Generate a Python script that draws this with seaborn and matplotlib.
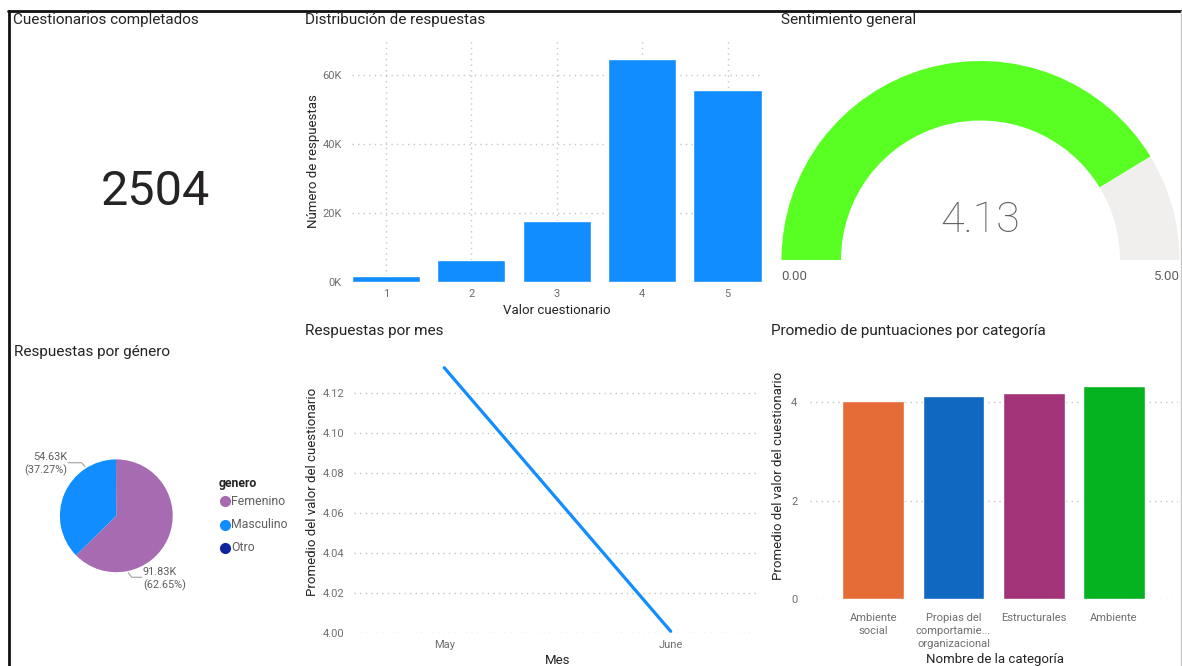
import matplotlib
matplotlib.use("Agg")
import matplotlib.pyplot as plt
import matplotlib.transforms as mtransforms
from matplotlib.patches import Wedge
from matplotlib.lines import Line2D
from matplotlib.ticker import FuncFormatter, FormatStrFormatter
import seaborn as sns

# ---------------- data ----------------
total_cuestionarios = 2504

valores_cuestionario = [1, 2, 3, 4, 5]
num_respuestas = [1850, 6450, 17800, 64800, 55650]

sentimiento = 4.13
sentimiento_min = 0.0
sentimiento_max = 5.0

generos = ["Femenino", "Masculino", "Otro"]
respuestas_genero = [91830, 54630, 120]

meses = ["May", "June"]
promedio_mes = [4.1325, 4.001]

categorias = ["Ambiente social", "Propias del comportamiento organizacional",
              "Estructurales", "Ambiente"]
etiquetas_categorias = ["Ambiente\nsocial", "Propias del\ncomportamie...\norganizacional",
                        "Estructurales", "Ambiente"]
promedio_categoria = [4.03, 4.13, 4.18, 4.33]

# ---------------- style ----------------
sns.set_theme(style="white")
plt.rcParams["font.family"] = ["Roboto", "DejaVu Sans"]

TITLE_C = "#252423"
TICK_C = "#6E6E6E"
GRID_C = "#C8C6C4"
BLUE = "#118DFF"
colores_genero = ["#A66BB1", "#118DFF", "#12239E"]
colores_categoria = ["#E66C37", "#1068C1", "#A4347A", "#05B21F"]

W, H = 1182, 666
fig = plt.figure(figsize=(W / 100, H / 100), dpi=100)
fig.patch.set_facecolor("white")

# pixel coordinates with origin at the top-left corner
PX = mtransforms.Affine2D().scale(1 / W, -1 / H).translate(0, 1) + fig.transFigure


def px_axes(left, top, right, bottom):
    return fig.add_axes([left / W, 1 - bottom / H, (right - left) / W, (bottom - top) / H])


def title(x, y, s):
    fig.text(x, y, s, transform=PX, ha="left", va="center", fontsize=11, color=TITLE_C)


def style_axes(ax, grid_axis):
    for sp in ax.spines.values():
        sp.set_visible(False)
    ax.grid(False)
    ax.grid(axis=grid_axis, linestyle=(0, (1, 3)), color=GRID_C, linewidth=1)
    ax.set_axisbelow(True)
    ax.tick_params(length=0, labelsize=8, labelcolor=TICK_C)


def place_labels(ax, xlab, xpos, ylab, ypos, size=9.5):
    ax.set_xlabel(xlab, fontsize=size, color=TITLE_C)
    ax.set_ylabel(ylab, fontsize=size, color=TITLE_C)
    ax.xaxis.set_label_coords(*xpos, transform=PX)
    ax.yaxis.set_label_coords(*ypos, transform=PX)
    ax.xaxis.label.set_va("center")
    ax.yaxis.label.set_va("center")


# ---------------- frame lines ----------------
fig.add_artist(Line2D([8, W], [11, 11], transform=PX, color="#111111", lw=2))
fig.add_artist(Line2D([8.5, 8.5], [11, H], transform=PX, color="#111111", lw=2))
fig.add_artist(Line2D([1181, 1181], [11, H], transform=PX, color="#C8C8C8", lw=1))

# ---------------- KPI card ----------------
title(13, 20, "Cuestionarios completados")
fig.text(155, 192, f"{total_cuestionarios}", transform=PX, ha="center", va="center",
         fontsize=35, fontweight="normal", color=TITLE_C)

# ---------------- distribution bar chart ----------------
title(305, 20, "Distribución de respuestas")
ax1 = px_axes(351.7, 39.3, 761.7, 282.3)
sns.barplot(x=valores_cuestionario, y=num_respuestas, color=BLUE, saturation=1,
            width=0.8, ax=ax1)
ax1.set_xlim(-0.4, 4.4)
ax1.set_ylim(0, 70500)
ax1.set_yticks([0, 20000, 40000, 60000])
ax1.yaxis.set_major_formatter(FuncFormatter(lambda v, p: f"{v / 1000:.0f}K"))
style_axes(ax1, "both")
ax1.tick_params(axis="y", pad=7)
ax1.tick_params(axis="x", pad=5)
place_labels(ax1, "Valor cuestionario", (557, 310), "Número de respuestas", (313, 161))

# ---------------- gauge ----------------
title(781, 20, "Sentimiento general")
ax3 = px_axes(770, 40, 1182, 290)
ax3.set_xlim(0, 412)
ax3.set_ylim(0, 250)
ax3.axis("off")
cx, cy, r_out, r_in = 210.5, 30, 199, 139.5
frac = (sentimiento - sentimiento_min) / (sentimiento_max - sentimiento_min)
ang = 180 - frac * 180
ax3.add_patch(Wedge((cx, cy), r_out, ang, 180, width=r_out - r_in, color="#59FF22", lw=0))
ax3.add_patch(Wedge((cx, cy), r_out, 0, ang, width=r_out - r_in, color="#F0EFEE", lw=0))
fig.text(980, 220, f"{sentimiento:.2f}", transform=PX, ha="center", va="center",
         fontsize=31, fontweight="light", color="#605E5C")
fig.text(781, 276, f"{sentimiento_min:.2f}", transform=PX, ha="left", va="center",
         fontsize=9.5, color="#605E5C")
fig.text(1180, 276, f"{sentimiento_max:.2f}", transform=PX, ha="right", va="center",
         fontsize=9.5, color="#605E5C")

# ---------------- gender pie ----------------
title(14, 352, "Respuestas por género")
pcx, pcy, pr = 116.3, 515.8, 56.4
half = 1.3 * pr
ax4 = px_axes(pcx - half, pcy - half, pcx + half, pcy + half)
ax4.pie(respuestas_genero, colors=colores_genero, startangle=90, counterclock=False,
        wedgeprops=dict(linewidth=0))
ax4.set_xlim(-1.3, 1.3)
ax4.set_ylim(-1.3, 1.3)
ax4.set_aspect("equal")
total_genero = sum(respuestas_genero)


def pie_label(i, pts, tx, ty, ha):
    xs, ys = zip(*pts)
    ax4.add_line(Line2D(xs, ys, color="#A19F9D", lw=0.8, clip_on=False))
    v = respuestas_genero[i]
    ax4.text(tx, ty, f"{v / 1000:.2f}K\n({v / total_genero * 100:.2f}%)", ha=ha, va="center",
             fontsize=7.8, color="#605E5C", linespacing=1.3, clip_on=False)


pie_label(1, [(-0.555, 0.871), (-0.613, 0.941), (-0.856, 0.941)], -0.875, 0.915, "right")
pie_label(0, [(0.213, -1.009), (0.273, -1.09), (0.45, -1.09)], 0.47, -1.115, "left")

fig.text(219, 483, "genero", transform=PX, ha="left", va="center", fontsize=8.8,
         fontweight="bold", color=TITLE_C)
for k, (g, c) in enumerate(zip(generos, colores_genero)):
    yy = 501.3 + k * 23.2
    fig.add_artist(Line2D([225], [yy], transform=PX, marker="o", markersize=7,
                          color=c, lw=0))
    fig.text(231, yy, g, transform=PX, ha="left", va="center", fontsize=8.8, color="#605E5C")

# ---------------- monthly line chart ----------------
title(305, 331, "Respuestas por mes")
ax5 = px_axes(353.7, 350.7, 759, 633.3)
sns.lineplot(x=meses, y=promedio_mes, color=BLUE, linewidth=2.3, ax=ax5)
for ln in ax5.get_lines():
    ln.set_clip_on(False)
ax5.set_xlim(-0.4, 1.39)
ax5.set_ylim(4.0, 4.141)
ax5.set_yticks([4.00, 4.02, 4.04, 4.06, 4.08, 4.10, 4.12])
ax5.yaxis.set_major_formatter(FormatStrFormatter("%.2f"))
style_axes(ax5, "y")
ax5.tick_params(axis="y", pad=7)
ax5.tick_params(axis="x", pad=5)
place_labels(ax5, "Mes", (558, 660), "Promedio del valor del cuestionario", (312, 492))

# ---------------- category bar chart ----------------
title(771, 331, "Promedio de puntuaciones por categoría")
ax6 = px_axes(810, 352.7, 1178, 599.3)
sns.barplot(x=categorias, y=promedio_categoria, hue=categorias, palette=colores_categoria,
            saturation=1, width=0.77, legend=False, ax=ax6)
ax6.set_xlim(-0.79, 3.8)
ax6.set_ylim(0, 5)
ax6.set_yticks([0, 2, 4])
ax6.set_xticks(range(len(categorias)))
ax6.set_xticklabels(etiquetas_categorias, linespacing=1.35, va="top")
style_axes(ax6, "y")
ax6.tick_params(axis="y", pad=9)
ax6.tick_params(axis="x", pad=10)
place_labels(ax6, "Nombre de la categoría", (995, 660), "Promedio del valor del cuestionario",
             (778, 476))

fig.savefig("out.png", dpi=100, facecolor="white")
